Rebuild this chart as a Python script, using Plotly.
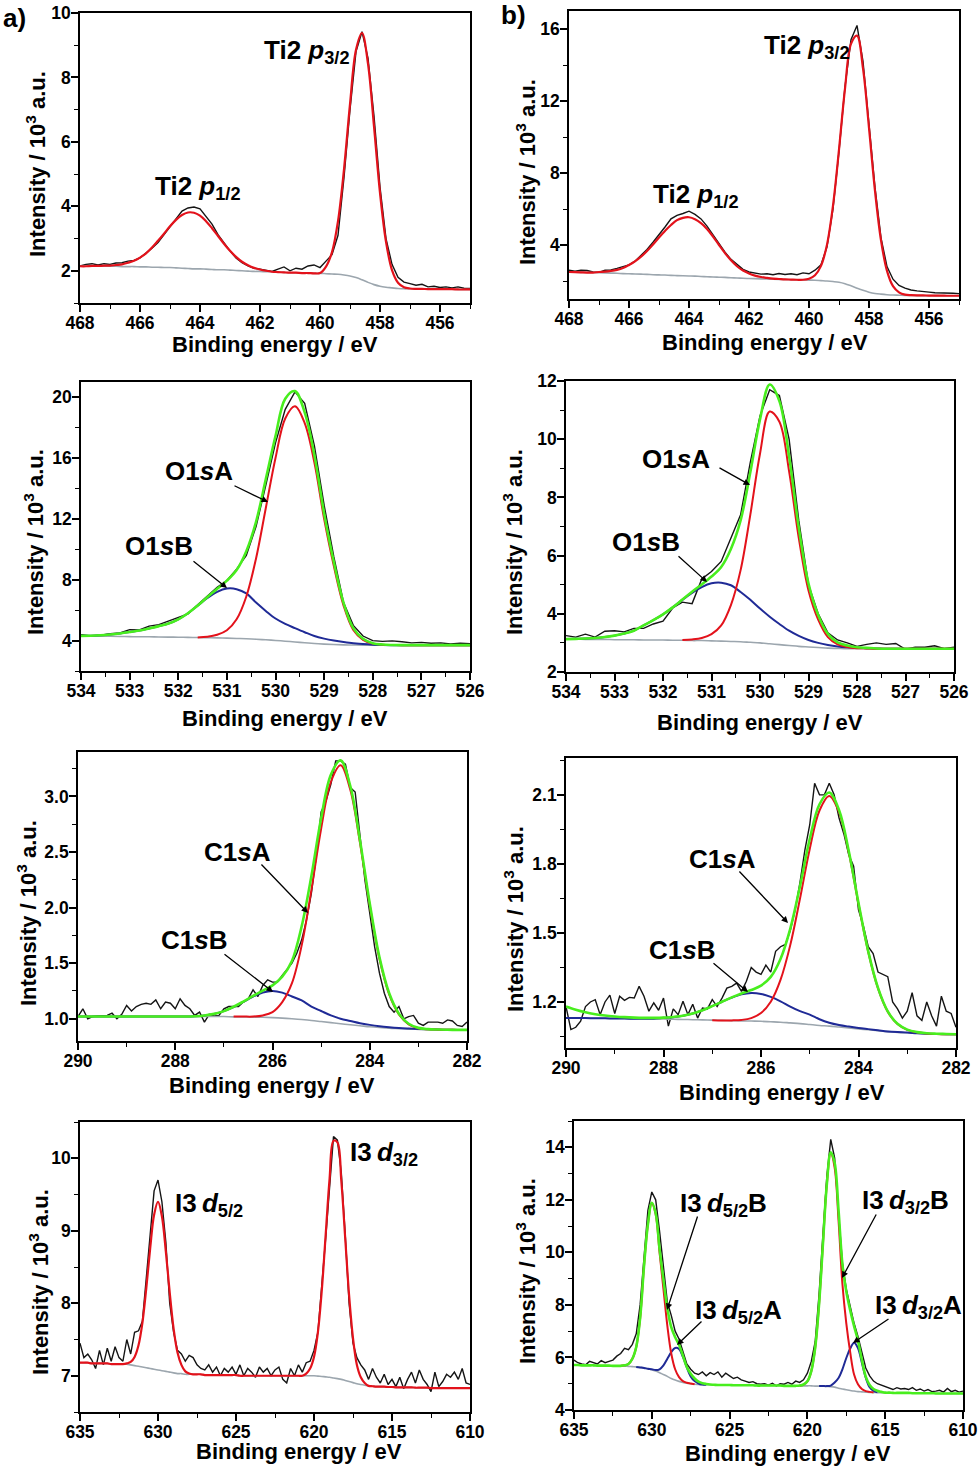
import numpy as np
import plotly.graph_objects as go

W, H = 980, 1467
FONT = "Liberation Sans, Arial, sans-serif"

BLACK = "#141414"
RED = "#e3121b"
GREEN = "#48ee1e"
BLUE = "#1f2a96"
GREY = "#9ca6ae"

# ---- binding-energy scan grids (eV) ----
ti_energy = np.linspace(468.0, 455.0, 66)
o_energy = np.linspace(534.0, 526.0, 41)
c_energy = np.linspace(290.0, 282.0, 41)
c_energy_raw = np.linspace(290.0, 282.0, 81)
i_energy = np.linspace(635.0, 610.0, 101)

# ---- Ti 2p, sample a (10^3 a.u.) ----
ti_a_data = [2.15, 2.20, 2.22, 2.18, 2.22, 2.20, 2.24, 2.25, 2.30, 2.32,
             2.40, 2.55, 2.70, 2.88, 3.12, 3.38, 3.60, 3.85, 3.95, 3.98,
             3.92, 3.70, 3.45, 3.12, 2.85, 2.62, 2.40, 2.25, 2.15, 2.08,
             2.05, 2.02, 1.98, 2.05, 2.12, 2.00, 2.08, 2.05, 2.15, 2.18,
             2.10, 2.30, 2.50, 3.10, 4.90, 7.00, 8.80, 9.42, 8.60, 6.80,
             4.60, 3.00, 2.20, 1.80, 1.65, 1.60, 1.55, 1.58, 1.50, 1.52,
             1.48, 1.50, 1.47, 1.50, 1.46, 1.45]
ti_a_fit = [2.14, 2.14, 2.15, 2.15, 2.16, 2.16, 2.18, 2.20, 2.25, 2.31,
            2.41, 2.54, 2.72, 2.93, 3.15, 3.38, 3.58, 3.73, 3.81, 3.80,
            3.71, 3.54, 3.32, 3.08, 2.84, 2.62, 2.43, 2.28, 2.17, 2.09,
            2.04, 2.00, 1.97, 1.96, 1.95, 1.94, 1.94, 1.93, 1.93, 1.92,
            1.93, 2.13, 2.58, 3.54, 5.15, 7.17, 8.86, 9.38, 8.42, 6.48,
            4.42, 2.90, 2.02, 1.63, 1.49, 1.45, 1.44, 1.44, 1.43, 1.43,
            1.43, 1.43, 1.43, 1.42, 1.42, 1.42]
ti_a_bg = [2.14, 2.14, 2.14, 2.14, 2.14, 2.14, 2.14, 2.13, 2.13, 2.13,
           2.12, 2.12, 2.11, 2.11, 2.10, 2.10, 2.09, 2.08, 2.07, 2.06,
           2.06, 2.05, 2.04, 2.03, 2.03, 2.02, 2.01, 2.00, 1.99, 1.98,
           1.98, 1.97, 1.97, 1.96, 1.95, 1.94, 1.94, 1.93, 1.93, 1.92,
           1.92, 1.91, 1.90, 1.89, 1.87, 1.84, 1.79, 1.72, 1.64, 1.57,
           1.52, 1.49, 1.47, 1.45, 1.44, 1.44, 1.43, 1.43, 1.43, 1.43,
           1.43, 1.43, 1.43, 1.42, 1.42, 1.42]

# ---- Ti 2p, sample b ----
ti_b_data = [2.60, 2.55, 2.60, 2.58, 2.50, 2.48, 2.60, 2.62, 2.70, 2.78,
             2.90, 3.10, 3.40, 3.75, 4.15, 4.55, 5.00, 5.45, 5.65, 5.75,
             5.88, 5.70, 5.45, 5.05, 4.55, 4.10, 3.60, 3.20, 2.90, 2.65,
             2.50, 2.42, 2.38, 2.40, 2.35, 2.42, 2.36, 2.40, 2.35, 2.45,
             2.40, 2.60, 2.90, 3.90, 6.00, 9.20, 12.80, 15.40, 16.20, 14.20,
             10.80, 7.20, 4.40, 2.80, 2.10, 1.75, 1.60, 1.50, 1.45, 1.40,
             1.38, 1.35, 1.35, 1.33, 1.32, 1.30]
ti_b_fit = [2.50, 2.49, 2.48, 2.47, 2.47, 2.50, 2.52, 2.56, 2.62, 2.72,
            2.89, 3.09, 3.35, 3.67, 4.03, 4.42, 4.78, 5.11, 5.38, 5.51,
            5.54, 5.43, 5.21, 4.89, 4.47, 4.00, 3.55, 3.15, 2.82, 2.58,
            2.42, 2.30, 2.22, 2.17, 2.13, 2.11, 2.09, 2.08, 2.07, 2.07,
            2.13, 2.32, 2.84, 4.02, 6.19, 9.30, 12.69, 15.17, 15.63, 13.81,
            10.51, 7.00, 4.26, 2.56, 1.71, 1.37, 1.24, 1.21, 1.20, 1.20,
            1.19, 1.19, 1.19, 1.18, 1.18, 1.18]
ti_b_bg = [2.50, 2.49, 2.48, 2.47, 2.47, 2.46, 2.45, 2.44, 2.43, 2.41,
           2.40, 2.39, 2.38, 2.37, 2.35, 2.34, 2.33, 2.31, 2.30, 2.29,
           2.28, 2.27, 2.25, 2.24, 2.22, 2.21, 2.20, 2.18, 2.17, 2.15,
           2.14, 2.13, 2.12, 2.11, 2.10, 2.09, 2.08, 2.07, 2.06, 2.06,
           2.05, 2.04, 2.02, 2.00, 1.97, 1.93, 1.85, 1.73, 1.60, 1.48,
           1.38, 1.31, 1.27, 1.24, 1.22, 1.21, 1.20, 1.20, 1.19, 1.19,
           1.19, 1.19, 1.18, 1.18, 1.18, 1.18]

# ---- O 1s, sample a ----
o_a_data = [4.38, 4.30, 4.35, 4.45, 4.50, 4.72, 4.70, 4.95, 5.05, 5.30,
            5.50, 5.75, 6.35, 6.90, 7.50, 7.95, 8.70, 9.60, 11.50, 14.20,
            17.00, 19.20, 20.35, 19.60, 16.80, 12.90, 9.50, 6.50, 5.00, 4.30,
            4.00, 3.95, 3.98, 3.92, 3.85, 3.88, 3.82, 3.85, 3.78, 3.82,
            3.80]
o_a_fit_a = [None] * 12 + [4.21, 4.25, 4.38, 4.68, 5.40, 6.90, 9.40, 12.70,
                           16.00, 18.60, 19.40, 18.30, 15.70, 12.00, 8.90, 6.30,
                           4.70, 4.05, 3.80, 3.73, 3.71, 3.70, 3.70, 3.70,
                           3.70, 3.70, 3.70, 3.70, 3.70]
o_a_fit_b = [4.31, 4.32, 4.35, 4.40, 4.47, 4.56, 4.66, 4.80, 4.95, 5.12,
             5.40, 5.80, 6.30, 6.80, 7.20, 7.42, 7.38, 7.10, 6.50, 5.95,
             5.45, 5.10, 4.82, 4.55, 4.30, 4.13, 4.00, 3.90, 3.83, 3.77,
             3.73, 3.71, 3.70, 3.70, 3.70, 3.70, 3.70, 3.70, 3.70, 3.70,
             3.70]
o_a_env = [4.31, 4.32, 4.35, 4.40, 4.47, 4.56, 4.66, 4.80, 4.95, 5.12,
           5.40, 5.80, 6.30, 6.86, 7.40, 7.94, 8.64, 9.88, 11.81, 14.60,
           17.44, 19.90, 20.40, 19.00, 16.19, 12.36, 9.16, 6.48, 4.82, 4.12,
           3.83, 3.74, 3.71, 3.70, 3.70, 3.70, 3.70, 3.70, 3.70, 3.70,
           3.70]
o_a_bg = [4.31, 4.30, 4.29, 4.28, 4.27, 4.26, 4.25, 4.25, 4.24, 4.23,
          4.22, 4.21, 4.20, 4.19, 4.18, 4.16, 4.14, 4.12, 4.09, 4.05,
          4.01, 3.96, 3.91, 3.86, 3.81, 3.77, 3.74, 3.72, 3.71, 3.70,
          3.70, 3.70, 3.70, 3.70, 3.70, 3.70, 3.70, 3.70, 3.70, 3.70,
          3.70]

# ---- O 1s, sample b ----
o_b_data = [3.25, 3.20, 3.30, 3.20, 3.40, 3.42, 3.38, 3.50, 3.50, 3.65,
            3.75, 4.20, 4.40, 4.35, 5.20, 5.45, 5.80, 6.60, 7.40, 9.20,
            10.80, 11.70, 11.50, 10.00, 7.20, 5.00, 4.00, 3.35, 3.10, 3.00,
            2.88, 2.95, 3.00, 2.95, 2.98, 2.78, 2.85, 2.85, 2.90, 2.80,
            2.85]
o_b_fit_a = [None] * 12 + [3.10, 3.12, 3.17, 3.30, 3.60, 4.30, 5.50, 7.40,
                           9.50, 10.95, 10.60, 8.90, 6.60, 4.80, 3.80, 3.20,
                           2.95, 2.86, 2.82, 2.81, 2.80, 2.80, 2.80, 2.80,
                           2.80, 2.80, 2.80, 2.80, 2.80]
o_b_fit_b = [3.13, 3.14, 3.15, 3.17, 3.20, 3.25, 3.32, 3.42, 3.60, 3.78,
             3.98, 4.22, 4.48, 4.72, 4.92, 5.05, 5.07, 4.98, 4.75, 4.48,
             4.18, 3.90, 3.65, 3.42, 3.24, 3.10, 3.00, 2.93, 2.88, 2.85,
             2.83, 2.82, 2.81, 2.80, 2.80, 2.80, 2.80, 2.80, 2.80, 2.80,
             2.80]
o_b_env = [3.13, 3.14, 3.15, 3.17, 3.20, 3.25, 3.32, 3.42, 3.60, 3.78,
           3.98, 4.22, 4.49, 4.76, 5.01, 5.28, 5.61, 6.23, 7.21, 8.86,
           10.68, 11.88, 11.31, 9.41, 6.96, 5.04, 3.96, 3.31, 3.02, 2.91,
           2.85, 2.83, 2.81, 2.80, 2.80, 2.80, 2.80, 2.80, 2.80, 2.80,
           2.80]
o_b_bg = [3.13, 3.13, 3.12, 3.12, 3.12, 3.11, 3.11, 3.11, 3.10, 3.10,
          3.10, 3.09, 3.09, 3.08, 3.08, 3.07, 3.06, 3.05, 3.04, 3.02,
          3.00, 2.97, 2.94, 2.91, 2.88, 2.86, 2.84, 2.82, 2.81, 2.80,
          2.80, 2.80, 2.80, 2.80, 2.80, 2.80, 2.80, 2.80, 2.80, 2.80,
          2.80]

# ---- C 1s, sample a ----
c_a_data = [1.02, 1.09, 1.00, 1.02, 1.025, 1.03, 1.03, 1.05, 1.00, 1.04,
            1.12, 1.07, 1.11, 1.13, 1.14, 1.13, 1.17, 1.09, 1.15, 1.14,
            1.09, 1.18, 1.12, 1.09, 1.03, 1.06, 0.97, 1.04, 1.025, 1.03,
            1.09, 1.11, 1.11, 1.11, 1.15, 1.18, 1.26, 1.20, 1.30, 1.35,
            1.33, 1.33, 1.39, 1.44, 1.50, 1.59, 1.71, 1.89, 2.13, 2.46,
            2.86, 2.96, 3.11, 3.32, 3.32, 3.29, 3.08, 3.04, 2.66, 2.25,
            1.95, 1.65, 1.41, 1.23, 1.11, 1.06, 1.11, 1.00, 1.02, 1.03,
            0.96, 0.94, 0.97, 0.97, 0.97, 0.96, 0.99, 0.98, 0.94, 0.93,
            0.97]
c_a_fit_a = [None] * 16 + [1.02, 1.02, 1.02, 1.03, 1.06, 1.15, 1.32, 1.66,
                           2.16, 2.71, 3.13, 3.28, 3.06, 2.58, 2.02, 1.54,
                           1.22, 1.04, 0.95, 0.915, 0.905, 0.902, 0.901, 0.90,
                           0.90]
c_a_fit_b = [1.02, 1.02, 1.02, 1.02, 1.02, 1.02, 1.02, 1.02, 1.02, 1.02,
             1.02, 1.02, 1.023, 1.03, 1.044, 1.069, 1.105, 1.151, 1.20, 1.236,
             1.25, 1.235, 1.20, 1.165, 1.11, 1.07, 1.03, 1.00, 0.98, 0.96,
             0.945, 0.933, 0.924, 0.917, 0.912, 0.908, 0.905, 0.903, 0.901, 0.90,
             0.90]
c_a_env = [1.02, 1.02, 1.02, 1.02, 1.02, 1.02, 1.02, 1.02, 1.02, 1.02,
           1.02, 1.02, 1.023, 1.03, 1.044, 1.069, 1.108, 1.155, 1.205, 1.253,
           1.30, 1.379, 1.52, 1.832, 2.285, 2.805, 3.195, 3.325, 3.094, 2.603,
           2.037, 1.552, 1.229, 1.046, 0.955, 0.918, 0.907, 0.903, 0.901, 0.90,
           0.90]
c_a_bg = [1.02, 1.02, 1.02, 1.02, 1.02, 1.02, 1.02, 1.02, 1.02, 1.02,
          1.02, 1.02, 1.02, 1.02, 1.02, 1.02, 1.017, 1.016, 1.015, 1.013,
          1.01, 1.006, 1.00, 0.993, 0.985, 0.975, 0.965, 0.955, 0.946, 0.937,
          0.928, 0.921, 0.915, 0.911, 0.907, 0.905, 0.903, 0.902, 0.901, 0.90,
          0.90]

# ---- C 1s, sample b ----
c_b_data = [1.18, 1.08, 1.09, 1.117, 1.18, 1.20, 1.21, 1.145, 1.20, 1.23,
            1.15, 1.225, 1.207, 1.22, 1.217, 1.268, 1.225, 1.16, 1.196, 1.164,
            1.217, 1.095, 1.17, 1.145, 1.203, 1.145, 1.19, 1.13, 1.174, 1.17,
            1.21, 1.18, 1.217, 1.26, 1.268, 1.282, 1.246, 1.29, 1.35, 1.33,
            1.32, 1.36, 1.33, 1.42, 1.44, 1.45, 1.51, 1.60, 1.72, 1.86,
            1.97, 2.15, 2.10, 2.10, 2.15, 2.10, 2.00, 1.93, 1.84, 1.79,
            1.60, 1.53, 1.44, 1.41, 1.33, 1.32, 1.31, 1.20, 1.17, 1.13,
            1.16, 1.24, 1.14, 1.12, 1.20, 1.14, 1.095, 1.225, 1.16, 1.15,
            1.09]
c_b_fit_a = [None] * 15 + [1.121, 1.12, 1.12, 1.122, 1.13, 1.152, 1.201, 1.296,
                           1.447, 1.649, 1.865, 2.032, 2.095, 2.025, 1.85, 1.626,
                           1.417, 1.259, 1.158, 1.104, 1.079, 1.068, 1.063, 1.061,
                           1.06, 1.06]
c_b_fit_b = [1.13, 1.13, 1.13, 1.129, 1.129, 1.128, 1.128, 1.127, 1.127, 1.127,
             1.131, 1.134, 1.14, 1.15, 1.164, 1.182, 1.201, 1.219, 1.233, 1.239,
             1.235, 1.222, 1.203, 1.18, 1.16, 1.145, 1.125, 1.11, 1.10, 1.093,
             1.087, 1.082, 1.077, 1.072, 1.069, 1.067, 1.064, 1.062, 1.061, 1.06,
             1.06]
c_b_env = [1.18, 1.166, 1.155, 1.147, 1.141, 1.137, 1.134, 1.132, 1.131, 1.131,
           1.132, 1.135, 1.14, 1.15, 1.164, 1.182, 1.201, 1.22, 1.237, 1.252,
           1.271, 1.309, 1.387, 1.518, 1.703, 1.908, 2.059, 2.11, 2.034, 1.856,
           1.63, 1.42, 1.261, 1.159, 1.105, 1.08, 1.069, 1.064, 1.062, 1.061,
           1.06]
c_b_bg = [1.13, 1.13, 1.13, 1.129, 1.129, 1.128, 1.128, 1.127, 1.127, 1.127,
          1.126, 1.125, 1.124, 1.123, 1.122, 1.121, 1.12, 1.119, 1.118, 1.117,
          1.116, 1.114, 1.112, 1.109, 1.106, 1.102, 1.098, 1.095, 1.091, 1.087,
          1.083, 1.079, 1.075, 1.071, 1.068, 1.066, 1.064, 1.062, 1.061, 1.06,
          1.06]

# ---- I 3d, sample a ----
i_a_data = [7.45, 7.25, 7.30, 7.22, 7.10, 7.35, 7.15, 7.38, 7.20, 7.40,
            7.25, 7.20, 7.50, 7.30, 7.60, 7.62, 7.75, 8.30, 8.95, 9.55,
            9.70, 9.40, 8.85, 8.00, 7.60, 7.35, 7.30, 7.20, 7.28, 7.25,
            7.15, 7.10, 7.08, 7.15, 7.05, 7.12, 7.00, 7.10, 7.05, 7.12,
            7.02, 7.15, 7.00, 7.10, 7.05, 6.98, 7.12, 7.05, 7.10, 7.00,
            7.08, 7.12, 6.95, 6.90, 7.10, 7.00, 7.15, 7.05, 7.18, 7.20,
            7.35, 7.60, 8.20, 8.90, 9.60, 10.30, 10.25, 9.80, 8.95, 8.00,
            7.45, 7.25, 7.15, 7.08, 6.95, 7.10, 6.98, 6.90, 7.02, 6.88,
            6.95, 6.85, 6.98, 6.82, 6.95, 7.05, 6.90, 7.08, 6.95, 6.88,
            6.78, 7.05, 6.85, 6.92, 7.02, 6.98, 7.05, 6.95, 7.10, 6.90,
            6.88]
i_a_fit = [7.18, 7.18, 7.18, 7.17, 7.17, 7.17, 7.17, 7.17, 7.16, 7.16,
           7.16, 7.16, 7.17, 7.19, 7.26, 7.42, 7.73, 8.21, 8.76, 9.22,
           9.40, 9.20, 8.72, 8.15, 7.65, 7.32, 7.15, 7.06, 7.03, 7.02,
           7.02, 7.02, 7.01, 7.01, 7.01, 7.01, 7.01, 7.01, 7.01, 7.01,
           7.01, 7.00, 7.00, 7.00, 7.00, 7.00, 7.00, 7.00, 7.00, 7.00,
           7.00, 7.00, 7.00, 7.00, 7.00, 7.00, 7.00, 7.00, 7.03, 7.10,
           7.26, 7.60, 8.18, 8.95, 9.72, 10.24, 10.22, 9.69, 8.90, 8.11,
           7.52, 7.15, 6.98, 6.90, 6.86, 6.855, 6.85, 6.85, 6.85, 6.845,
           6.845, 6.84, 6.84, 6.84, 6.84, 6.84, 6.835, 6.835, 6.835, 6.835,
           6.83, 6.83, 6.83, 6.83, 6.83, 6.83, 6.83, 6.83, 6.83, 6.83,
           6.83]
i_a_bg = [7.18, 7.18, 7.18, 7.17, 7.17, 7.17, 7.17, 7.17, 7.16, 7.16,
          7.16, 7.16, 7.16, 7.15, 7.14, 7.13, 7.12, 7.11, 7.10, 7.09,
          7.08, 7.07, 7.06, 7.05, 7.04, 7.03, 7.03, 7.02, 7.02, 7.02,
          7.02, 7.02, 7.01, 7.01, 7.01, 7.01, 7.01, 7.01, 7.01, 7.01,
          7.01, 7.00, 7.00, 7.00, 7.00, 7.00, 7.00, 7.00, 7.00, 7.00,
          7.00, 7.00, 7.00, 7.00, 7.00, 7.00, 7.00, 7.00, 7.00, 7.00,
          7.00, 6.995, 6.99, 6.985, 6.98, 6.97, 6.96, 6.95, 6.935, 6.92,
          6.905, 6.89, 6.88, 6.87, 6.86, 6.855, 6.85, 6.85, 6.85, 6.845,
          6.845, 6.84, 6.84, 6.84, 6.84, 6.84, 6.835, 6.835, 6.835, 6.835,
          6.83, 6.83, 6.83, 6.83, 6.83, 6.83, 6.83, 6.83, 6.83, 6.83,
          6.83]

# ---- I 3d, sample b ----
i_b_data = [5.90, 5.80, 5.75, 5.72, 5.85, 5.80, 5.75, 5.88, 5.80, 5.85,
            5.90, 6.05, 6.15, 6.35, 6.30, 6.50, 6.90, 8.00, 9.90, 11.60,
            12.30, 12.00, 10.80, 9.40, 8.10, 7.60, 7.00, 6.70, 6.20, 5.75,
            5.55, 5.40, 5.35, 5.45, 5.30, 5.42, 5.35, 5.45, 5.25, 5.40,
            5.30, 5.20, 5.25, 5.15, 5.10, 5.05, 5.08, 5.00, 4.98, 5.00,
            4.95, 5.02, 4.92, 5.00, 4.98, 5.05, 4.98, 5.10, 5.05, 5.15,
            5.40, 5.85, 6.60, 8.40, 10.70, 12.90, 14.30, 13.60, 11.50, 9.60,
            8.60, 7.90, 7.30, 6.80, 6.20, 5.60, 5.30, 5.10, 5.00, 4.95,
            4.88, 4.85, 4.78, 4.85, 4.80, 4.82, 4.78, 4.85, 4.75, 4.80,
            4.72, 4.78, 4.70, 4.72, 4.75, 4.68, 4.82, 4.70, 4.75, 4.68,
            4.72]
i_b_fit_b = ([None] * 12
             + [5.68, 5.70, 5.75, 5.95, 6.40, 7.50, 9.48, 11.07, 11.87, 11.45,
                9.99, 8.60, 7.20, 6.15, 5.55, 5.25, 5.10, 5.04, 5.01, 4.98]
             + [None] * 26
             + [4.93, 4.97, 5.09, 5.48, 6.37, 8.03, 10.34, 12.60, 13.77, 13.23,
                11.23, 8.80, 7.30, 6.20, 5.35, 4.98, 4.80, 4.72, 4.69, 4.67]
             + [None] * 23)
i_b_fit_a = ([None] * 16
             + [5.64, 5.62, 5.60, 5.57, 5.55, 5.52, 5.55, 5.70, 5.95, 6.20,
                6.36, 6.32, 6.02, 5.62, 5.28, 5.10, 5.01, 4.97, 4.96]
             + [None] * 28
             + [4.91, 4.91, 4.91, 4.93, 5.05, 5.22, 5.55, 5.98, 6.34, 6.56,
                6.36, 5.80, 5.23, 4.87, 4.73, 4.67]
             + [None] * 22)
i_b_env = [5.71, 5.71, 5.70, 5.70, 5.70, 5.70, 5.69, 5.69, 5.69, 5.69,
           5.68, 5.68, 5.68, 5.70, 5.75, 5.95, 6.40, 7.50, 9.48, 11.07,
           11.89, 11.49, 10.12, 8.95, 7.87, 7.15, 6.77, 6.48, 6.07, 5.64,
           5.38, 5.20, 5.08, 5.02, 4.99, 4.97, 4.96, 4.95, 4.95, 4.95,
           4.95, 4.94, 4.94, 4.94, 4.94, 4.94, 4.94, 4.93, 4.93, 4.93,
           4.93, 4.93, 4.93, 4.93, 4.92, 4.92, 4.92, 4.92, 4.93, 4.97,
           5.09, 5.48, 6.37, 8.03, 10.34, 12.60, 13.81, 13.41, 11.62, 9.55,
           8.51, 7.80, 7.19, 6.64, 5.91, 5.27, 4.95, 4.80, 4.73, 4.69,
           4.66, 4.66, 4.65, 4.65, 4.65, 4.65, 4.65, 4.64, 4.64, 4.64,
           4.64, 4.64, 4.64, 4.63, 4.63, 4.63, 4.63, 4.63, 4.63, 4.63,
           4.63]
i_b_bg = [5.71, 5.71, 5.70, 5.70, 5.70, 5.70, 5.69, 5.69, 5.69, 5.69,
          5.68, 5.68, 5.68, 5.67, 5.66, 5.65, 5.64, 5.62, 5.60, 5.57,
          5.53, 5.48, 5.42, 5.35, 5.28, 5.20, 5.14, 5.09, 5.05, 5.02,
          5.00, 4.98, 4.97, 4.96, 4.96, 4.96, 4.95, 4.95, 4.95, 4.95,
          4.95, 4.94, 4.94, 4.94, 4.94, 4.94, 4.94, 4.93, 4.93, 4.93,
          4.93, 4.93, 4.93, 4.93, 4.92, 4.92, 4.92, 4.92, 4.92, 4.92,
          4.92, 4.92, 4.91, 4.91, 4.91, 4.90, 4.89, 4.87, 4.83, 4.80,
          4.77, 4.74, 4.72, 4.70, 4.69, 4.68, 4.67, 4.67, 4.66, 4.66,
          4.66, 4.66, 4.65, 4.65, 4.65, 4.65, 4.65, 4.64, 4.64, 4.64,
          4.64, 4.64, 4.64, 4.63, 4.63, 4.63, 4.63, 4.63, 4.63, 4.63,
          4.63]

for name, arr, grid in [
    ("ti_a_data", ti_a_data, ti_energy), ("ti_a_fit", ti_a_fit, ti_energy), ("ti_a_bg", ti_a_bg, ti_energy),
    ("ti_b_data", ti_b_data, ti_energy), ("ti_b_fit", ti_b_fit, ti_energy), ("ti_b_bg", ti_b_bg, ti_energy),
    ("o_a_data", o_a_data, o_energy), ("o_a_fit_a", o_a_fit_a, o_energy), ("o_a_fit_b", o_a_fit_b, o_energy),
    ("o_a_env", o_a_env, o_energy), ("o_a_bg", o_a_bg, o_energy),
    ("o_b_data", o_b_data, o_energy), ("o_b_fit_a", o_b_fit_a, o_energy), ("o_b_fit_b", o_b_fit_b, o_energy),
    ("o_b_env", o_b_env, o_energy), ("o_b_bg", o_b_bg, o_energy),
    ("c_a_data", c_a_data, c_energy_raw), ("c_a_fit_a", c_a_fit_a, c_energy), ("c_a_fit_b", c_a_fit_b, c_energy),
    ("c_a_env", c_a_env, c_energy), ("c_a_bg", c_a_bg, c_energy),
    ("c_b_data", c_b_data, c_energy_raw), ("c_b_fit_a", c_b_fit_a, c_energy), ("c_b_fit_b", c_b_fit_b, c_energy),
    ("c_b_env", c_b_env, c_energy), ("c_b_bg", c_b_bg, c_energy),
    ("i_a_data", i_a_data, i_energy), ("i_a_fit", i_a_fit, i_energy), ("i_a_bg", i_a_bg, i_energy),
    ("i_b_data", i_b_data, i_energy), ("i_b_fit_b", i_b_fit_b, i_energy), ("i_b_fit_a", i_b_fit_a, i_energy),
    ("i_b_env", i_b_env, i_energy), ("i_b_bg", i_b_bg, i_energy),
]:
    assert len(arr) == len(grid), (name, len(arr), len(grid))


def line(x, y, color, width, shape="spline"):
    return dict(x=x, y=y, color=color, width=width, shape=shape)


RAW = 1.4
panels = [
    # (left, right, top, bottom) in px, x range, y range, x dtick/minor, y dtick/minor, y format, lines
    dict(box=(80, 470, 13, 303), xr=[468, 455], yr=[1, 10], xd=(2, 1), yd=(2, 1), fmt="",
         lines=[line(ti_energy, ti_a_data, BLACK, RAW, "linear"), line(ti_energy, ti_a_bg, GREY, 1.6),
                line(ti_energy, ti_a_fit, RED, 2.2)]),
    dict(box=(569, 959, 11, 299), xr=[468, 455], yr=[1, 17], xd=(2, 1), yd=(4, 2), fmt="",
         lines=[line(ti_energy, ti_b_data, BLACK, RAW, "linear"), line(ti_energy, ti_b_bg, GREY, 1.6),
                line(ti_energy, ti_b_fit, RED, 2.2)]),
    dict(box=(81, 470, 382, 671), xr=[534, 526], yr=[2, 21], xd=(1, 0.5), yd=(4, 2), fmt="",
         lines=[line(o_energy, o_a_data, BLACK, RAW, "linear"), line(o_energy, o_a_bg, GREY, 1.6),
                line(o_energy, o_a_fit_b, BLUE, 2.0), line(o_energy, o_a_fit_a, RED, 2.0),
                line(o_energy, o_a_env, GREEN, 2.6)]),
    dict(box=(566, 954, 381, 672), xr=[534, 526], yr=[2, 12], xd=(1, 0.5), yd=(2, 1), fmt="",
         lines=[line(o_energy, o_b_data, BLACK, RAW, "linear"), line(o_energy, o_b_bg, GREY, 1.6),
                line(o_energy, o_b_fit_b, BLUE, 2.0), line(o_energy, o_b_fit_a, RED, 2.0),
                line(o_energy, o_b_env, GREEN, 2.6)]),
    dict(box=(78, 467, 752, 1041), xr=[290, 282], yr=[0.8, 3.4], xd=(2, 1), yd=(0.5, 0.25), fmt=".1f",
         lines=[line(c_energy_raw, c_a_data, BLACK, RAW, "linear"), line(c_energy, c_a_bg, GREY, 1.6),
                line(c_energy, c_a_fit_b, BLUE, 2.0), line(c_energy, c_a_fit_a, RED, 2.0),
                line(c_energy, c_a_env, GREEN, 2.6)]),
    dict(box=(566, 956, 758, 1048), xr=[290, 282], yr=[1.0, 2.26], xd=(2, 1), yd=(0.3, 0.15), fmt=".1f",
         lines=[line(c_energy_raw, c_b_data, BLACK, RAW, "linear"), line(c_energy, c_b_bg, GREY, 1.6),
                line(c_energy, c_b_fit_b, BLUE, 2.0), line(c_energy, c_b_fit_a, RED, 2.0),
                line(c_energy, c_b_env, GREEN, 2.6)]),
    dict(box=(80, 470, 1122, 1412), xr=[635, 610], yr=[6.5, 10.5], xd=(5, 2.5), yd=(1, 0.5), fmt="",
         lines=[line(i_energy, i_a_data, BLACK, RAW, "linear"), line(i_energy, i_a_bg, GREY, 1.6),
                line(i_energy, i_a_fit, RED, 2.2)]),
    dict(box=(574, 963, 1121, 1410), xr=[635, 610], yr=[4, 15], xd=(5, 2.5), yd=(2, 1), fmt="",
         lines=[line(i_energy, i_b_data, BLACK, RAW, "linear"), line(i_energy, i_b_bg, GREY, 1.6),
                line(i_energy, i_b_fit_a, BLUE, 2.0), line(i_energy, i_b_fit_b, RED, 2.0),
                line(i_energy, i_b_env, GREEN, 2.6)]),
]

fig = go.Figure()
tickfont = dict(family=FONT, size=17.5, color="black", weight="bold")


def fx(x):
    return x / W


def fy(y):
    return 1 - y / H


for n, p in enumerate(panels, start=1):
    sfx = "" if n == 1 else str(n)
    l, r, t, b = p["box"]
    common = dict(showline=True, linecolor="black", linewidth=1.6, mirror=True,
                  ticks="outside", ticklen=7, tickwidth=1.5, tickcolor="black",
                  showgrid=False, zeroline=False, tickfont=tickfont, automargin=False)
    fig.update_layout({
        "xaxis" + sfx: dict(domain=[fx(l), fx(r)], range=p["xr"], anchor="y" + sfx,
                            tick0=0, dtick=p["xd"][0], ticklabelstandoff=-4,
                            minor=dict(ticks="outside", ticklen=4, tickwidth=1.2,
                                       tickcolor="black", dtick=p["xd"][1]),
                            **common),
        "yaxis" + sfx: dict(domain=[fy(b), fy(t)], range=p["yr"], anchor="x" + sfx,
                            tick0=0, dtick=p["yd"][0], tickformat=p["fmt"], ticklabelstandoff=-3,
                            minor=dict(ticks="outside", ticklen=4, tickwidth=1.2,
                                       tickcolor="black", dtick=p["yd"][1]),
                            **common),
    })
    for ln in p["lines"]:
        fig.add_scatter(x=ln["x"], y=ln["y"], xaxis="x" + sfx, yaxis="y" + sfx,
                        mode="lines", connectgaps=False, showlegend=False, hoverinfo="skip",
                        line=dict(color=ln["color"], width=ln["width"], shape=ln["shape"]))

notes = []


def label(text, x, y, size=26, xanchor="left", angle=0):
    notes.append(dict(text=text, x=fx(x), y=fy(y), xref="paper", yref="paper", showarrow=False,
                      xanchor=xanchor, yanchor="middle", textangle=angle,
                      font=dict(family=FONT, size=size, color="black", weight="bold")))


def arrow(tail, head):
    notes.append(dict(text="", x=fx(head[0]), y=fy(head[1]), xref="paper", yref="paper",
                      showarrow=True, ax=tail[0] - head[0], ay=tail[1] - head[1],
                      arrowhead=2, arrowsize=1, arrowwidth=1.3, arrowcolor="black", standoff=0))


# panel letters
label("a)", 1, 18, size=26)
label("b)", 499, 15, size=26)

# axis titles
ytitle = "Intensity / 10<sup>3</sup> a.u."
xtitle = "Binding energy / eV"
for (yx, yy), (xx, xy) in [((36, 164), (275, 344)), ((526, 172), (765, 342)),
                           ((34, 542), (285, 718)), ((513, 542), (760, 722)),
                           ((27, 913), (272, 1085)), ((514, 919), (782, 1092)),
                           ((39, 1282), (299, 1451)), ((526, 1271), (788, 1453))]:
    label(ytitle, yx, yy, size=22, xanchor="center", angle=-90)
    label(xtitle, xx, xy, size=22, xanchor="center")

# peak labels
label("Ti2 <i>p</i><sub>3/2</sub>", 262, 52)
label("Ti2 <i>p</i><sub>1/2</sub>", 153, 187)
label("Ti2 <i>p</i><sub>3/2</sub>", 762, 47)
label("Ti2 <i>p</i><sub>1/2</sub>", 651, 195)
label("O1<i>s</i>A", 163, 471)
label("O1<i>s</i>B", 123, 546)
label("O1<i>s</i>A", 640, 459)
label("O1<i>s</i>B", 610, 542)
label("C1<i>s</i>A", 202, 852)
label("C1<i>s</i>B", 159, 940)
label("C1<i>s</i>A", 687, 859)
label("C1<i>s</i>B", 647, 950)
label("I3\u2009<i>d</i><sub>3/2</sub>", 348, 1153)
label("I3\u2009<i>d</i><sub>5/2</sub>", 173, 1204)
label("I3\u2009<i>d</i><sub>5/2</sub>B", 678, 1204)
label("I3\u2009<i>d</i><sub>5/2</sub>A", 693, 1311)
label("I3\u2009<i>d</i><sub>3/2</sub>B", 860, 1201)
label("I3\u2009<i>d</i><sub>3/2</sub>A", 873, 1306)

# pointer arrows
arrow((233, 485), (268, 502))
arrow((192, 560), (227, 588))
arrow((718, 467), (750, 485))
arrow((677, 555), (707, 582))
arrow((260, 863), (308, 913))
arrow((223, 953), (273, 992))
arrow((738, 870), (788, 923))
arrow((712, 962), (748, 992))
arrow((698, 1215), (667, 1310))
arrow((703, 1320), (677, 1345))
arrow((877, 1213), (842, 1278))
arrow((890, 1318), (853, 1343))

fig.update_layout(width=W, height=H, margin=dict(l=0, r=0, t=0, b=0, pad=0, autoexpand=False),
                  paper_bgcolor="white", plot_bgcolor="white",
                  font=dict(family=FONT, color="black"), annotations=notes)
# drop the browser's default body margin so the figure sits at the page origin
fig.write_html("out.html", config={"displayModeBar": False},
               post_script="document.body.style.margin = '0';")
